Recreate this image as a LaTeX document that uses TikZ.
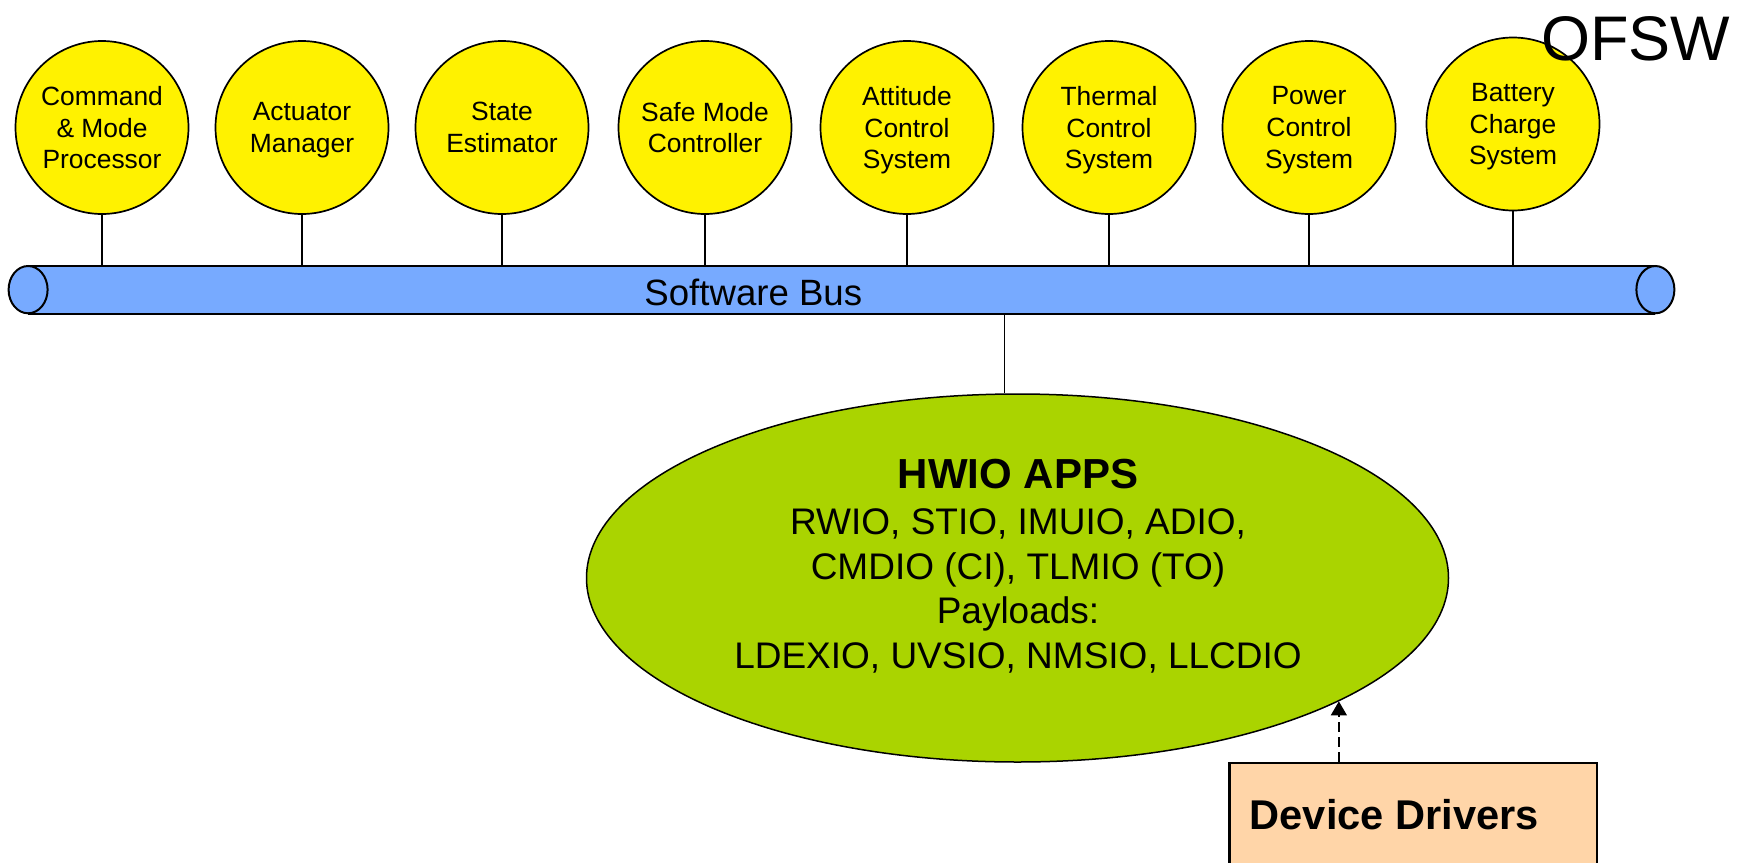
\documentclass[tikz,border=0pt]{standalone}
\usepackage{fontspec}
\setmainfont{Liberation Sans}
\usetikzlibrary{shapes.geometric,arrows.meta,fit}

\definecolor{busblue}{RGB}{119,170,255}
\definecolor{appgreen}{RGB}{170,212,0}
\definecolor{drvpeach}{RGB}{255,213,168}

\begin{document}
\begin{tikzpicture}[x=0.5pt,y=-0.5pt,
  app/.style={circle, draw=black, line width=0.85pt, fill=yellow,
    minimum size=86.5pt, inner sep=0pt, align=center, text depth=0pt,
    font=\fontsize{13.2}{15.85}\selectfont},
  tap/.style={line width=0.65pt},
  busline/.style={line width=1pt},
  hwiotext/.style={anchor=base, inner sep=0pt, font=\fontsize{18.5}{22}\selectfont},
  flow/.style={line width=0.65pt, dash pattern=on 5pt off 2.5pt,
    -{Triangle[length=7pt,width=8pt]}}]

\useasboundingbox (0,0) rectangle (1737,863);
\clip (0,0) rectangle (1737,863);

% application circles
\node[app] (c1) at (102,127.5)  {Command\\\& Mode\\Processor};
\node[app] (c2) at (302,127.5)  {Actuator\\Manager};
\node[app] (c3) at (502,127.5)  {State\\Estimator};
\node[app] (c4) at (705,127.5)  {Safe Mode\\Controller};
\node[app] (c5) at (907,127.5)  {Attitude\\Control\\System};
\node[app] (c6) at (1109,127.5) {Thermal\\Control\\System};
\node[app] (c7) at (1309,127.5) {Power\\Control\\System};
\node[app] (c8) at (1513,124)   {Battery\\Charge\\System};

\node[anchor=base west, inner sep=0pt, font=\fontsize{31.5}{38}\selectfont]
  (ofsw) at (1541,60) {OFSW};

% software bus (horizontal cylinder)
\node[fit={(28.5,266) (1655,313.3)}, inner sep=0pt] (bus) {};
\foreach \c in {c1,c2,c3,c4,c5,c6,c7,c8}
  \draw[tap] (\c.south) -- (\c.south |- bus.north);
\fill[busblue] (bus.north west) rectangle (bus.south east);
\draw[busline] (bus.north west) -- (bus.north east);
\draw[busline] (bus.south west) -- (bus.south east);
\draw[busline, fill=busblue] (bus.west) ellipse [x radius=19.5, y radius=23.65];
\draw[busline, fill=busblue] (bus.east) ellipse [x radius=19, y radius=23.65];
\node[anchor=base, inner sep=0pt, font=\fontsize{18.3}{22}\selectfont]
  (buslabel) at (753.3,305) {Software Bus};

% hardware I/O applications
\node[ellipse, draw=black, line width=0.75pt, fill=appgreen,
  minimum width=431pt, minimum height=184pt, inner sep=0pt] (hwio) at (1017.5,578) {};
\draw[tap] (hwio.94.2 |- bus.south) -- (hwio.94.2);
\node[hwiotext, font=\bfseries\fontsize{21}{25}\selectfont] (hwiotitle) at (1018,488.3) {HWIO APPS};
\node[hwiotext] (hwioa) at (1018,534.3) {RWIO, STIO, IMUIO, ADIO,};
\node[hwiotext] (hwiob) at (1018,579.3) {CMDIO (CI), TLMIO (TO)};
\node[hwiotext] (hwioc) at (1018,623.3) {Payloads:};
\node[hwiotext] (hwiod) at (1018,668.3) {LDEXIO, UVSIO, NMSIO, LLCDIO};

% device drivers
\node[rectangle, draw=black, line width=1.15pt, fill=drvpeach,
  minimum width=183.85pt, minimum height=100pt, inner sep=0pt,
  anchor=north west] (dd) at (1228.3,761.7) {};
\node[anchor=base west, inner sep=0pt, font=\bfseries\fontsize{20.8}{25}\selectfont]
  (ddlabel) at (1249.3,829.3) {Device Drivers};
\draw[flow] (dd.north -| hwio.-21.5) -- (hwio.-21.5);

\end{tikzpicture}
\end{document}
